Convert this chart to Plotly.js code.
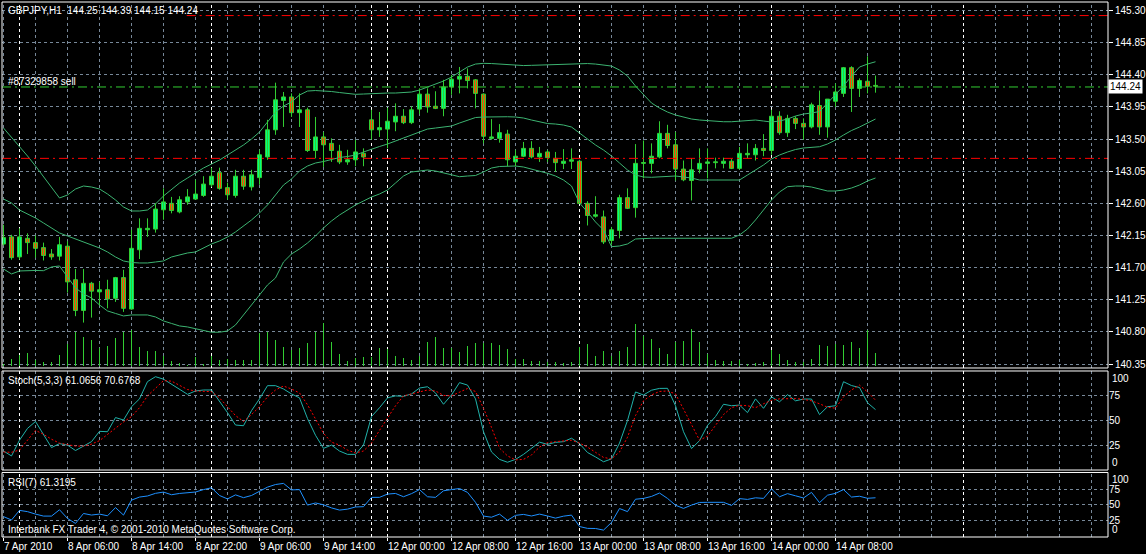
<!DOCTYPE html>
<html><head><meta charset="utf-8">
<script src="https://cdn.plot.ly/plotly-3.0.1.min.js"></script>
<style>html,body{margin:0;padding:0;background:#000;}#chart{width:1146px;height:554px;}</style>
</head><body><div id="chart"></div>
<script>
// ---------- DATA (GBPJPY H1, bars from 7 Apr 2010 22:00) ----------
const openP = [142.03,142.13,141.85,142.11,142.05,141.98,141.89,141.86,142.00,141.53,
141.10,141.48,141.36,141.39,141.27,141.56,141.12,141.95,142.23,142.24,
142.51,142.60,142.48,142.62,142.66,142.71,142.86,143.03,142.82,142.71,
142.98,142.83,142.96,143.25,143.63,144.04,144.09,143.87,143.91,143.34,
143.53,143.44,143.33,143.18,143.21,143.30,143.77,143.63,143.64,143.74,
143.82,143.73,143.92,144.13,143.96,143.93,144.23,144.34,144.38,144.33,
144.13,143.51,143.51,143.57,143.18,143.26,143.37,143.25,143.32,143.23,
143.16,143.19,143.19,142.60,142.42,142.41,142.08,142.22,142.68,142.54,
143.16,143.16,143.25,143.58,143.42,143.08,142.92,143.08,143.16,143.17,
143.16,143.19,143.09,143.28,143.28,143.37,143.34,143.82,143.59,143.79,
143.72,143.67,143.97,143.67,144.03,144.14,144.50,144.21,144.31,144.25];
const highP = [142.30,142.16,142.25,142.18,142.15,142.05,141.96,142.13,142.07,141.68,
141.68,141.50,141.50,141.53,141.57,141.67,142.23,142.39,142.39,142.60,
142.81,142.69,142.70,142.80,142.93,142.98,143.10,143.10,142.89,143.07,
143.07,143.07,143.35,143.77,144.29,144.16,144.14,144.14,143.94,143.81,
143.60,143.51,143.42,143.35,143.49,143.37,143.91,143.88,143.94,144.00,
143.92,143.96,144.21,144.21,144.17,144.33,144.40,144.51,144.49,144.34,
144.14,143.78,143.71,143.63,143.35,143.46,143.47,143.39,143.35,143.32,
143.36,143.37,143.21,142.63,142.70,142.50,142.27,142.72,142.81,143.43,
143.48,143.44,143.75,143.70,143.60,143.20,143.23,143.37,143.37,143.24,
143.24,143.22,143.39,143.44,143.43,143.57,143.91,143.89,143.84,143.82,
143.79,144.01,144.18,144.06,144.28,144.51,144.52,144.35,144.66,144.39];
const lowP = [142.01,141.81,141.81,141.89,141.84,141.80,141.81,141.80,141.35,141.02,
140.93,141.00,141.17,141.13,141.22,141.08,141.11,141.82,142.13,142.19,
142.37,142.46,142.46,142.58,142.65,142.69,142.83,142.79,142.65,142.68,
142.79,142.78,142.86,143.21,143.56,143.67,143.81,143.67,143.32,143.23,
143.11,143.18,143.15,143.14,143.12,143.12,143.49,143.53,143.37,143.61,
143.71,143.71,143.85,143.87,143.92,143.82,144.12,144.14,144.21,143.93,
143.44,143.49,143.45,143.12,143.12,143.25,143.23,143.18,143.18,143.04,
143.08,143.08,142.59,142.29,142.40,142.03,142.02,142.11,142.52,142.40,
142.95,143.02,143.23,143.37,142.92,142.91,142.64,143.02,142.95,143.09,
143.09,143.08,143.07,143.23,143.20,143.26,143.28,143.56,143.53,143.64,
143.49,143.65,143.56,143.52,143.95,144.09,143.88,144.09,144.14,144.15];
const closeP = [142.12,141.84,142.13,142.05,141.97,141.87,141.85,142.02,141.50,141.10,
141.48,141.37,141.39,141.26,141.56,141.13,141.97,142.25,142.25,142.52,
142.62,142.50,142.65,142.69,142.73,142.87,142.98,142.81,142.72,142.98,
142.84,143.00,143.28,143.63,144.05,144.09,143.87,143.91,143.34,143.53,
143.42,143.34,143.18,143.21,143.32,143.25,143.63,143.66,143.75,143.82,
143.73,143.91,144.13,143.95,143.93,144.23,144.34,144.38,144.32,144.14,
143.54,143.53,143.59,143.21,143.26,143.37,143.25,143.30,143.24,143.17,
143.19,143.21,142.60,142.43,142.44,142.06,142.23,142.68,142.53,143.16,
143.17,143.26,143.58,143.41,143.08,142.93,143.07,143.16,143.18,143.18,
143.19,143.09,143.30,143.30,143.37,143.34,143.82,143.59,143.79,143.72,
143.67,143.98,143.67,144.06,144.16,144.50,144.21,144.32,144.24,144.24];
const tickVolume = [50,175,275,325,150,100,100,275,550,850,
725,650,450,500,700,850,900,475,375,375,
250,125,75,25,225,50,250,150,175,150,
150,150,825,850,650,475,400,450,575,850,
1075,600,300,125,200,225,225,450,425,250,
200,150,250,600,725,450,450,350,500,575,
575,575,525,425,175,175,125,125,100,100,
75,100,475,550,250,375,250,375,475,1050,
750,675,450,300,600,625,925,600,300,150,
125,125,150,50,75,100,400,300,150,100,
100,175,525,500,550,525,600,450,900,325];
const bbUpper = [143.655,143.529,143.403,143.263,143.123,142.969,142.815,142.675,142.717,142.801,
142.843,142.829,142.801,142.731,142.647,142.549,142.493,142.493,142.507,142.591,
142.703,142.801,142.885,142.955,143.025,143.095,143.151,143.207,143.277,143.347,
143.417,143.501,143.599,143.739,143.879,143.963,144.019,144.117,144.173,144.180,
144.177,144.166,144.152,144.138,144.127,144.131,144.138,144.141,144.145,144.145,
144.152,144.159,144.187,144.229,144.271,144.313,144.369,144.439,144.509,144.551,
144.561,144.558,144.551,144.537,144.527,144.530,144.533,144.537,144.537,144.544,
144.551,144.558,144.561,144.558,144.551,144.537,144.523,144.467,144.383,144.243,
144.117,144.005,143.935,143.879,143.837,143.809,143.781,143.767,143.760,143.746,
143.743,143.743,143.753,143.767,143.767,143.753,143.739,143.753,143.781,143.823,
143.851,143.865,143.886,144.005,144.117,144.243,144.383,144.509,144.551,144.583];
const bbMiddle = [142.661,142.605,142.507,142.451,142.395,142.325,142.255,142.185,142.143,142.101,
142.059,142.017,141.975,141.919,141.849,141.793,141.772,141.765,141.765,141.779,
141.793,141.849,141.877,141.905,141.919,141.975,142.031,142.073,142.129,142.199,
142.283,142.367,142.465,142.577,142.717,142.857,142.941,143.053,143.123,143.165,
143.186,143.214,143.242,143.256,143.277,143.319,143.361,143.396,143.431,143.473,
143.515,143.557,143.599,143.641,143.655,143.669,143.683,143.725,143.767,143.802,
143.809,143.813,143.813,143.813,143.809,143.795,143.767,143.739,143.718,143.711,
143.697,143.669,143.585,143.501,143.417,143.347,143.263,143.165,143.067,142.997,
142.969,142.965,142.969,142.976,142.983,142.969,142.955,142.927,142.927,142.927,
142.927,142.927,142.927,142.997,143.067,143.137,143.221,143.277,143.319,143.354,
143.375,143.389,143.393,143.431,143.487,143.557,143.620,143.669,143.725,143.781];
const bbLower = [141.681,141.611,141.653,141.660,141.660,141.657,141.709,141.723,141.569,141.415,
141.331,141.275,141.177,141.093,141.058,141.023,141.037,141.037,141.037,141.009,
140.953,140.918,140.883,140.869,140.841,140.813,140.795,140.795,140.813,140.897,
141.037,141.177,141.331,141.457,141.555,141.779,141.891,141.961,142.045,142.143,
142.255,142.353,142.437,142.507,142.577,142.633,142.689,142.731,142.787,142.885,
142.983,143.039,143.053,143.067,143.053,143.025,142.997,142.973,142.983,142.990,
143.039,143.095,143.116,143.123,143.123,143.109,143.081,143.053,143.021,142.983,
142.927,142.843,142.605,142.479,142.339,142.227,141.993,142.003,142.031,142.101,
142.111,142.111,142.111,142.111,142.111,142.111,142.111,142.111,142.111,142.111,
142.111,142.111,142.157,142.241,142.367,142.507,142.647,142.759,142.833,142.843,
142.843,142.829,142.801,142.773,142.773,142.787,142.815,142.857,142.913,142.955];
const stochMain = [19,14,30,42,49,35,22.5,26.5,25,19.5,
24,28.5,39,38.6,53,50.5,64,72,89.5,94.5,
92,87,82,76.6,80,81,81,70,58,45.4,
44.7,60,72,85.4,85.4,82,77,73,52,35,
21.7,25,19,15.6,15.6,25,54,63,73,75,
74.5,77,83,84.3,78,66.5,76,88.5,86,72,
38.6,18,10.5,7.6,10.5,15.6,21.5,28,25.8,27.8,
28.5,32,26.5,17.5,13,8.1,11,27,50,79,
75.9,80.8,82.6,82.7,65,38.6,21.5,29.5,45,54,
66.5,65,65.7,58,72,62.4,74,69,76.3,70,
71.8,71.8,56,64,65,89.4,85.5,83.5,68,61.07];
const stochSignal = [18,17.7,20,30,40,36,31,27,25.5,24,
24,26,29.5,36,42,48.5,54,63,75,83,
90.5,90,86,81.5,80,79.5,79.3,73,64,55,
49,56,64,74,81,85,82,78,66,52,
37,28,25,20,17,19,27,40,53,65,
75,77,79.5,81,80,75.5,75,79,82.5,79.5,
62.5,43,22,14,10,10.5,15,23,27.5,28.5,
29,30,27,23,17.7,12.5,11,18,33,55,
70,76,79.5,80,77,62,46,30,34,45,
56,63,65.5,65,63,67,70.5,72,72,72.3,
71.5,70,67,63.5,62.5,74,81,86,79,70.68];
const rsi7 = [31,25.5,41,39,35,31.8,31.8,42,28,20,
36,33.5,35,32.3,45.5,33.4,57.5,62.5,64.2,68.5,
70.5,66.2,68.3,69.5,70.6,74.5,77.5,65,59.5,66,
61.5,65,72,78.5,82.7,84.5,74,74.5,49.5,53,
50,45,41.5,43,46.5,47,62,62,67.3,68.3,
63,68,74.5,63,62,72.6,74.5,76.3,70,54,
31.8,30,35,25,33,34.5,32,35,32,28.5,
31.7,33.4,15,12,11.8,9.2,21.5,44,39,59,
60.3,63.5,69,60.3,49.3,44.2,49.5,53.8,54,54,
54,49,60,58.7,61.3,60.3,75.5,63,68,64.5,
61,70,53.5,65.5,68.5,74.5,62.5,63.8,60.5,61.32];
const timeLabelIdx = [0,8,16,24,32,40,48,56,64,72,80,88,96,104];
const timeLabels = ['7 Apr 2010','8 Apr 06:00','8 Apr 14:00','8 Apr 22:00','9 Apr 06:00','9 Apr 14:00',
  '12 Apr 00:00','12 Apr 08:00','12 Apr 16:00','13 Apr 00:00','13 Apr 08:00','13 Apr 16:00','14 Apr 00:00','14 Apr 08:00'];
const priceTicks = [140.35,140.80,141.25,141.70,142.15,142.60,143.05,143.50,143.95,144.40,144.85,145.30];
const priceTickLabels = ['140.35','140.80','141.25','141.70','142.15','142.60','143.05','143.50','143.95','144.40','144.85','145.30'];
const oscTicks = [25,50,75];
const oscTickLabels = ['25','50','75'];
const daySeparators = [2,26,46,48,72,96,120];
const orderPrice = 144.23, stopLoss = 145.23, takeProfit = 143.23, bidPrice = 144.24;

// ---------- STYLE ----------
const FONT = '"Liberation Sans", Arial, Helvetica, sans-serif';
const GRID = '#778899', DASH = '3px,3px';
const WICK = '#32CD32', BULL = '#00FF7F', BEAR = '#FF4500', BAND = '#3CB371';

const idx = openP.map((_, i) => i);
const bodyBase = idx.map(i => Math.min(openP[i], closeP[i]));
const bodyLen = idx.map(i => Math.max(Math.abs(closeP[i] - openP[i]), 0.012));
const bodyCol = idx.map(i => closeP[i] >= openP[i] ? BULL : BEAR);
const wickX = [], wickY = [];
idx.forEach(i => { wickX.push(i, i, null); wickY.push(lowP[i], highP[i], null); });

const line = (y, color, axis, dash) => ({type:'scatter', mode:'lines', x:idx, y:y, yaxis:axis,
  line:{color:color, width:1, dash:dash||'solid'}, hoverinfo:'skip'});

const traces = [
  line(bbUpper, BAND, 'y'), line(bbMiddle, BAND, 'y'), line(bbLower, BAND, 'y'),
  {type:'scatter', mode:'lines', x:wickX, y:wickY, yaxis:'y', line:{color:WICK, width:1}, connectgaps:false, hoverinfo:'skip'},
  {type:'bar', x:idx, y:bodyLen, base:bodyBase, width:0.5, yaxis:'y', opacity:1,
    marker:{color:bodyCol, opacity:1, line:{color:WICK, width:1}}, hoverinfo:'skip'},
  {type:'bar', x:idx, y:tickVolume, width:0.125, yaxis:'y4', opacity:1, marker:{color:WICK, opacity:1, line:{width:0}}, hoverinfo:'skip'},
  line(stochMain, '#20B2AA', 'y2'),
  line(stochSignal, '#FF0000', 'y2', '2px,2px'),
  line(rsi7, '#1E90FF', 'y3')
];

// shapes: vertical grid, day separators, order lines, panel borders
const panels = ['y domain','y2 domain','y3 domain'];
const shapes = [];
for (let g = 0; g <= 136; g += 4) {
  if (daySeparators.includes(g)) continue;
  panels.forEach(p => shapes.push({type:'line', xref:'x', x0:g, x1:g, yref:p, y0:0, y1:1, layer:'below',
    line:{color:GRID, width:1, dash:DASH}}));
}
daySeparators.forEach(d => panels.forEach(p => shapes.push({type:'line', xref:'x', x0:d, x1:d, yref:p, y0:0, y1:1,
  layer:'below', line:{color:'#FFFFFF', width:1, dash:DASH}})));
const ORDERDASH = '9px,4px,2px,4px';
shapes.push({type:'line', xref:'paper', x0:0, x1:1, yref:'y', y0:orderPrice, y1:orderPrice, line:{color:'#32CD32', width:1, dash:ORDERDASH}});
shapes.push({type:'line', xref:'paper', x0:0.167, x1:1, yref:'y', y0:stopLoss, y1:stopLoss, line:{color:'#FF0000', width:1, dash:ORDERDASH}});
shapes.push({type:'line', xref:'paper', x0:0, x1:1, yref:'y', y0:takeProfit, y1:takeProfit, line:{color:'#FF0000', width:1, dash:ORDERDASH}});
panels.forEach(p => shapes.push({type:'rect', xref:'paper', x0:0, x1:1, yref:p, y0:0, y1:1, layer:'above',
  line:{color:'#FFFFFF', width:1}, fillcolor:'rgba(0,0,0,0)'}));

const txt = (text, xref, x, yref, y, xa, ya, xs, ys, extra) => Object.assign({text:text, xref:xref, x:x, yref:yref, y:y,
  xanchor:xa, yanchor:ya, xshift:xs||0, yshift:ys||0, showarrow:false, font:{family:FONT, size:10, color:'#FFFFFF'}, borderpad:1}, extra||{});
const last = openP.length - 1;
const annotations = [
  txt('GBPJPY,H1\u00a0\u00a0' + openP[last].toFixed(2) + ' ' + highP[last].toFixed(2) + ' ' + lowP[last].toFixed(2) + ' ' + closeP[last].toFixed(2),
      'paper', 0, 'y domain', 1, 'left', 'top', 4, -1),
  txt('#87329858 sell', 'paper', 0, 'y', orderPrice, 'left', 'bottom', 4, -2),
  txt(bidPrice.toFixed(2), 'paper', 1, 'y', bidPrice, 'left', 'middle', 0, 0, {bgcolor:'#FFFFFF', font:{family:FONT, size:10, color:'#000000'}}),
  txt('Stoch(5,3,3) 61.0656 70.6768', 'paper', 0, 'y2 domain', 1, 'left', 'top', 4, -2),
  txt('RSI(7) 61.3195', 'paper', 0, 'y3 domain', 1, 'left', 'top', 4, -2.5),
  txt('Interbank FX Trader 4, \u00a9 2001-2010 MetaQuotes Software Corp.', 'paper', 0, 'y3 domain', 0, 'left', 'bottom', 4, 0),
  txt('100', 'paper', 1, 'y2 domain', 1, 'left', 'top', 2, 0),
  txt('0', 'paper', 1, 'y2 domain', 0, 'left', 'bottom', 2, 0),
  txt('100', 'paper', 1, 'y3 domain', 1, 'left', 'top', 2, 0),
  txt('0', 'paper', 1, 'y3 domain', 0, 'left', 'bottom', 2, 0)
];

const tf = {family:FONT, size:10, color:'#FFFFFF'};
const oscAxis = (domain, range) => ({domain:domain, range:range, side:'right', anchor:'x', tickmode:'array',
  tickvals:oscTicks, ticktext:oscTickLabels, ticks:'', tickfont:tf, showgrid:true, gridcolor:GRID, griddash:DASH,
  gridwidth:1, zeroline:false, showline:false, fixedrange:true});

const layout = {
  width:1146, height:554,
  margin:{l:2, r:38, t:2, b:17, pad:0},
  paper_bgcolor:'#000000', plot_bgcolor:'#000000',
  showlegend:false, hovermode:false, barmode:'overlay', bargap:0, bargroupgap:0,
  font:{family:FONT, size:10, color:'#FFFFFF'},
  xaxis:{range:[-0.1875, 138.0625], anchor:'y3', tickmode:'array', tickvals:timeLabelIdx, ticktext:timeLabels,
    ticks:'outside', ticklen:3, tickcolor:'#FFFFFF', tickfont:tf, ticklabelposition:'outside right', tickangle:0,
    showgrid:false, zeroline:false, showline:false, fixedrange:true},
  yaxis:{domain:[0.3159, 1], range:[140.294, 145.42], side:'right', anchor:'x', tickmode:'array',
    tickvals:priceTicks, ticktext:priceTickLabels, ticks:'outside', ticklen:4, tickcolor:'#FFFFFF', tickfont:tf,
    showgrid:true, gridcolor:GRID, griddash:DASH, gridwidth:1, zeroline:false, showline:false, fixedrange:true},
  yaxis2:oscAxis([0.1252, 0.3103], [-0.3, 100.3]),
  yaxis3:oscAxis([0, 0.1206], [-1.9, 102.1]),
  yaxis4:{overlaying:'y', anchor:'x', range:[-37.5, 9112.5], visible:false, showgrid:false, zeroline:false, fixedrange:true},
  shapes:shapes, annotations:annotations
};

Plotly.newPlot('chart', traces, layout, {staticPlot:true, displayModeBar:false});
</script>
</body></html>
